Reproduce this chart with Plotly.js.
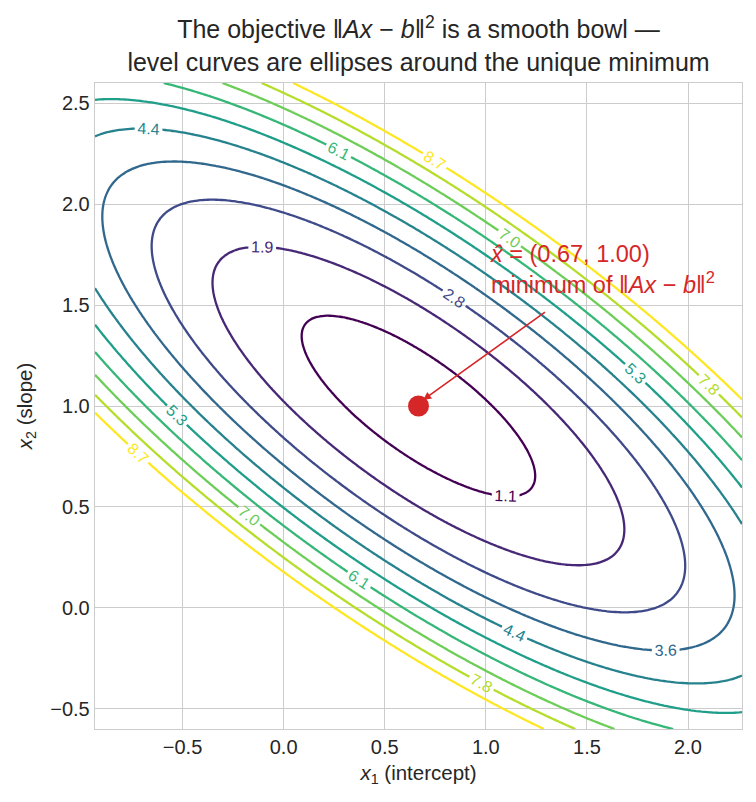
<!DOCTYPE html>
<html>
<head>
<meta charset="utf-8">
<script src="https://cdn.plot.ly/plotly-3.0.1.min.js"></script>
<style>html,body{margin:0;padding:0;background:#fff;}#chart{width:756px;height:802px;}</style>
</head>
<body>
<div id="chart"></div>
<script>
// Least-squares problem: rows of A (intercept, slope design) and observations b
const A_col1 = [1, 1, 1];
const A_col2 = [0, 1, 2];
const b = [1, 1, 3];
// Minimizer
const xhat = [0.667, 1.0];
// Contour levels (labels 1.1 ... 8.7)
const levels = [1.067, 1.911, 2.756, 3.600, 4.444, 5.289, 6.133, 6.978, 7.822, 8.667];
// Plotted window
const x1Range = [-0.933, 2.267];
const x2Range = [-0.6, 2.6];
const nGrid = 241;

function objective(x1, x2) {
  let s = 0;
  for (let i = 0; i < b.length; i++) {
    const r = A_col1[i] * x1 + A_col2[i] * x2 - b[i];
    s += r * r;
  }
  return s;
}
const gx = [], gy = [];
for (let i = 0; i < nGrid; i++) {
  gx.push(x1Range[0] + (x1Range[1] - x1Range[0]) * i / (nGrid - 1));
  gy.push(x2Range[0] + (x2Range[1] - x2Range[0]) * i / (nGrid - 1));
}
const Z = gy.map(y => gx.map(x => objective(x, y)));

const red = '#d62728';
const FONT = 'Liberation Sans, Arial, sans-serif';
const textCol = '#262626';

const traces = [
  {
    type: 'contour', x: gx, y: gy, z: Z,
    autocontour: false,
    contours: {
      coloring: 'lines',
      start: levels[0], end: levels[levels.length - 1],
      size: (levels[levels.length - 1] - levels[0]) / (levels.length - 1),
      showlabels: true,
      labelformat: '.1f',
      labelfont: {family: FONT, size: 16}
    },
    line: {width: 2.3, smoothing: 1},
    colorscale: 'Viridis',
    showscale: false,
    hoverinfo: 'skip'
  },
  {
    type: 'scatter', mode: 'markers',
    x: [xhat[0]], y: [xhat[1]],
    marker: {color: red, size: 21},
    hoverinfo: 'skip', showlegend: false
  }
];

const layout = {
  width: 756, height: 802,
  margin: {l: 95, r: 14, t: 83, b: 73},
  paper_bgcolor: '#ffffff', plot_bgcolor: '#ffffff',
  font: {family: FONT, color: textCol, size: 20},
  showlegend: false,
  title: {
    text: 'The objective ‖<i>Ax</i> − <i>b</i>‖<sup>2</sup> is a smooth bowl —<br>level curves are ellipses around the unique minimum',
    font: {family: FONT, size: 25, color: textCol},
    x: 0.5, xanchor: 'center', xref: 'paper',
    y: 1 - 38 / 802, yanchor: 'middle', yref: 'container'
  },
  xaxis: {
    range: x1Range, dtick: 0.5, tick0: 0, tickformat: '.1f',
    showgrid: true, gridcolor: '#cccccc', gridwidth: 1,
    zeroline: false, showline: true, mirror: true, linecolor: '#cccccc', linewidth: 1.3,
    ticks: '', tickfont: {size: 20, color: textCol},
    title: {text: '<i>x</i><sub>1</sub> (intercept)', font: {size: 20.5, color: textCol}, standoff: 8}
  },
  yaxis: {
    range: x2Range, dtick: 0.5, tick0: 0, tickformat: '.1f',
    showgrid: true, gridcolor: '#cccccc', gridwidth: 1,
    zeroline: false, showline: true, mirror: true, linecolor: '#cccccc', linewidth: 1.3,
    ticks: '', tickfont: {size: 20, color: textCol},
    title: {text: '<i>x</i><sub>2</sub> (slope)', font: {size: 20.5, color: textCol}, standoff: 12}
  },
  annotations: [
    {
      x: 0.69, y: 1.03, xref: 'x', yref: 'y',
      ax: 1.30, ay: 1.47, axref: 'x', ayref: 'y',
      text: '', showarrow: true,
      arrowhead: 2, arrowsize: 1, arrowwidth: 1.6, arrowcolor: red
    },
    {
      x: 1.01, y: 1.675, xref: 'x', yref: 'y',
      xanchor: 'left', yanchor: 'middle', align: 'left',
      showarrow: false,
      text: '<i>x̂</i> = (0.67, 1.00)<br>minimum of ‖<i>Ax</i> − <i>b</i>‖<sup>2</sup>',
      font: {family: FONT, size: 23.5, color: red}
    }
  ]
};

Plotly.newPlot('chart', traces, layout, {displayModeBar: false, staticPlot: true});
</script>
</body>
</html>
